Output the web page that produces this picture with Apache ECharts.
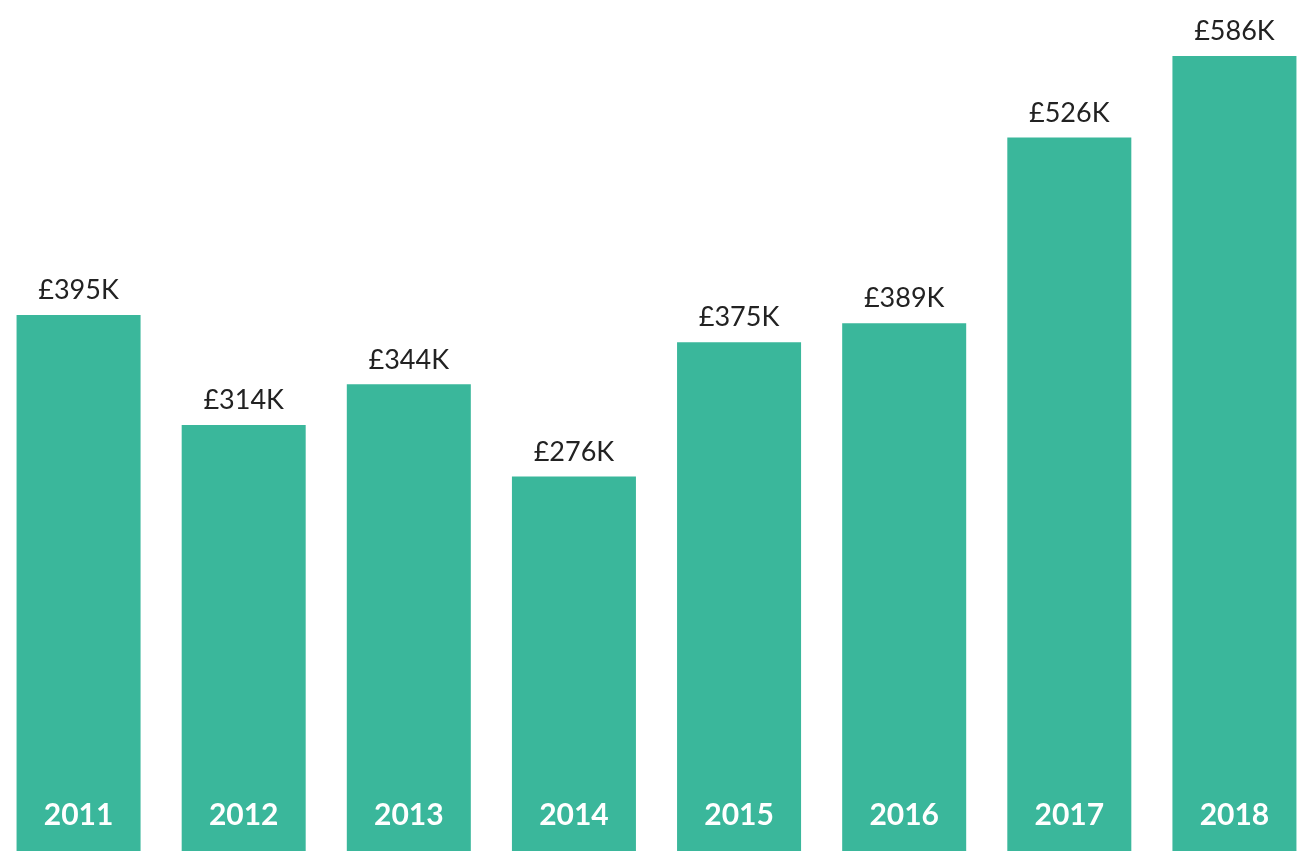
<!DOCTYPE html>
<html>
<head>
<meta charset="utf-8">
<script src="https://cdn.jsdelivr.net/npm/echarts@6/dist/echarts.min.js"></script>
<style>
  html, body { margin: 0; padding: 0; background: #fff; overflow: hidden; }
  #chart { width: 1321px; height: 868px; margin-left: -4px; }
</style>
</head>
<body>
<div id="chart"></div>
<script>
// data (values in £K)
var years = ['2011', '2012', '2013', '2014', '2015', '2016', '2017', '2018'];
var values = [395, 314, 344, 276, 375, 389, 526, 586];

var myChart = echarts.init(document.getElementById('chart'));

var option = {
    animation: false,
    grid: {
        left: 0,
        right: 0,
        top: 37,
        bottom: 17
    },
    xAxis: {
        type: 'category',
        data: years,
        z: 5,
        axisLine: { show: false },
        axisTick: { show: false },
        axisLabel: {
            inside: true,
            margin: 21,
            color: '#ffffff',
            fontFamily: 'Lato',
            fontWeight: 'bold',
            fontSize: 30
        }
    },
    yAxis: {
        type: 'value',
        min: 0,
        max: 600,
        show: false,
        splitLine: { show: false }
    },
    series: [
        {
            type: 'bar',
            data: values,
            barCategoryGap: '24.9%',
            itemStyle: { color: '#3ab79b' },
            label: {
                show: true,
                position: 'top',
                distance: 11,
                color: '#222222',
                fontFamily: 'Lato',
                fontSize: 27,
                formatter: function (p) {
                    return '£' + p.value + 'K';
                }
            }
        }
    ]
};

myChart.setOption(option);
</script>
</body>
</html>
